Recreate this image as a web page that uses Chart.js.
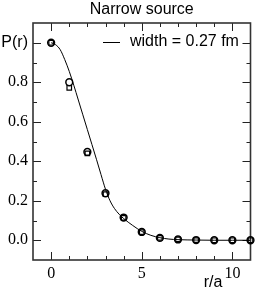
<!DOCTYPE html>
<html>
<head>
<meta charset="utf-8">
<script src="https://cdn.jsdelivr.net/npm/chart.js@4"></script>
<style>
  html, body { margin: 0; padding: 0; background: #fff; }
</style>
</head>
<body>
<canvas class="graph" width="256" height="294"></canvas>
<script>
// r/a positions of the measured points
let radius = [0, 1, 2, 3, 4, 5, 6, 7, 8, 9, 10, 11];
// open circles
let circleP = [1.0, 0.80, 0.447, 0.238, 0.115, 0.042, 0.012, 0.004, 0.001, 0.0, 0.0, 0.0];
// open squares (mostly hidden under the circles)
let squareP = [1.0, 0.772, 0.44, 0.233, 0.113, 0.041, 0.012, 0.004, 0.001, 0.0, 0.0, 0.0];
// the solid curve
let curveR = [0, 0.25, 0.5, 0.75, 1, 1.25, 1.5, 1.75, 2, 2.25, 2.5, 2.75, 3, 3.25, 3.5, 3.75, 4, 4.5, 5, 5.5, 6, 6.5, 7, 8, 9, 10, 11];
let curveP = [1.0, 0.99, 0.965, 0.915, 0.855, 0.785, 0.71, 0.635, 0.56, 0.485, 0.41, 0.333, 0.258, 0.2, 0.16, 0.132, 0.11, 0.075, 0.045, 0.025, 0.013, 0.006, 0.003, 0.001, 0, 0, 0];
let yLabelTicks = [0, 0.2, 0.4, 0.6, 0.8, 1.0];
let xLabelTicks = [0, 5, 10];
let titleText = "Narrow source";
let legendText = "width = 0.27 fm";

const sans = "'Liberation Sans', Arial, sans-serif";
const serif = "'Liberation Serif', 'Times New Roman', serif";

const pairs = (xs, ys) => xs.map((v, i) => ({ x: v, y: ys[i] }));

// frame with inner ticks on all four sides + title, legend and axis text
const framePlugin = {
  id: "frame",
  beforeDatasetsDraw(chart) {
    const { ctx, chartArea: a, scales } = chart;
    const x = scales.x, y = scales.y;
    ctx.save();
    ctx.strokeStyle = "#222";
    ctx.lineWidth = 1;
    ctx.beginPath();
    for (let i = 0; i <= 10; i++) {
      let len = i % 5 === 0 ? 8 : 4;
      let px = Math.round(x.getPixelForValue(i)) + 0.5;
      ctx.moveTo(px, a.bottom); ctx.lineTo(px, a.bottom - len);
      ctx.moveTo(px, a.top); ctx.lineTo(px, a.top + len);
    }
    for (let i = 0; i <= 10; i++) {
      let len = i % 2 === 0 ? 8 : 4;
      let py = Math.round(y.getPixelForValue(i / 10)) + 0.5;
      ctx.moveTo(a.left, py); ctx.lineTo(a.left + len, py);
      ctx.moveTo(a.right, py); ctx.lineTo(a.right - len, py);
    }
    ctx.stroke();
    ctx.lineWidth = 1.6;
    ctx.strokeStyle = "#333";
    ctx.strokeRect(a.left, a.top, a.right - a.left, a.bottom - a.top);
    ctx.restore();
  },
  afterDraw(chart) {
    const { ctx, chartArea: a } = chart;
    ctx.save();
    ctx.strokeStyle = "#000";
    ctx.lineWidth = 1;
    ctx.beginPath();
    ctx.moveTo(103, 42.5);
    ctx.lineTo(120, 42.5);
    ctx.stroke();
    ctx.fillStyle = "#000";
    ctx.font = "16px " + sans;
    ctx.textBaseline = "middle";
    ctx.textAlign = "left";
    ctx.fillText(legendText, 130, 42);
    ctx.textAlign = "center";
    ctx.fillText(titleText, (a.left + a.right) / 2, 10);
    ctx.fillText("r/a", 213, 283);
    ctx.restore();
  },
};

const graph = new Chart(document.querySelector(".graph"), {
  type: "scatter",
  data: {
    datasets: [
      {
        label: "curve",
        data: pairs(curveR, curveP),
        showLine: true,
        borderColor: "#000",
        borderWidth: 1,
        pointRadius: 0,
        cubicInterpolationMode: "monotone",
        order: 3,
      },
      {
        label: "squares",
        data: pairs(radius, squareP),
        pointStyle: "rect",
        pointRadius: 3.2,
        borderColor: "#000",
        backgroundColor: "rgba(0,0,0,0)",
        borderWidth: 1.2,
        clip: false,
        order: 2,
      },
      {
        label: "circles",
        data: pairs(radius, circleP),
        pointStyle: "circle",
        pointRadius: 3.4,
        borderColor: "#000",
        backgroundColor: "rgba(0,0,0,0)",
        borderWidth: 1.5,
        clip: false,
        order: 1,
      },
    ],
  },
  options: {
    responsive: false,
    animation: false,
    devicePixelRatio: 1,
    layout: { padding: { left: 0, right: 5, top: 23, bottom: 0 } },
    plugins: {
      legend: { display: false },
      tooltip: { enabled: false },
      title: { display: false },
    },
    scales: {
      x: {
        type: "linear",
        min: -1,
        max: 11,
        grid: { display: false, drawTicks: false },
        border: { display: false },
        afterBuildTicks: (s) => { s.ticks = xLabelTicks.map((v) => ({ value: v })); },
        afterFit: (s) => { s.height = 34; },
        ticks: {
          color: "#000",
          padding: 4,
          maxRotation: 0,
          font: { family: serif, size: 16 },
        },
      },
      y: {
        type: "linear",
        min: -0.1,
        max: 1.1,
        grid: { display: false, drawTicks: false },
        border: { display: false },
        afterBuildTicks: (s) => { s.ticks = yLabelTicks.map((v) => ({ value: v })); },
        afterFit: (s) => { s.width = 33; },
        ticks: {
          color: "#000",
          padding: 5,
          font: (c) => (c.tick && c.tick.value === 1 ? { family: sans, size: 16 } : { family: serif, size: 16 }),
          callback: (v) => (v === 1 ? "P(r)" : Number(v).toFixed(1)),
        },
      },
    },
  },
  plugins: [framePlugin],
});
</script>
</body>
</html>
